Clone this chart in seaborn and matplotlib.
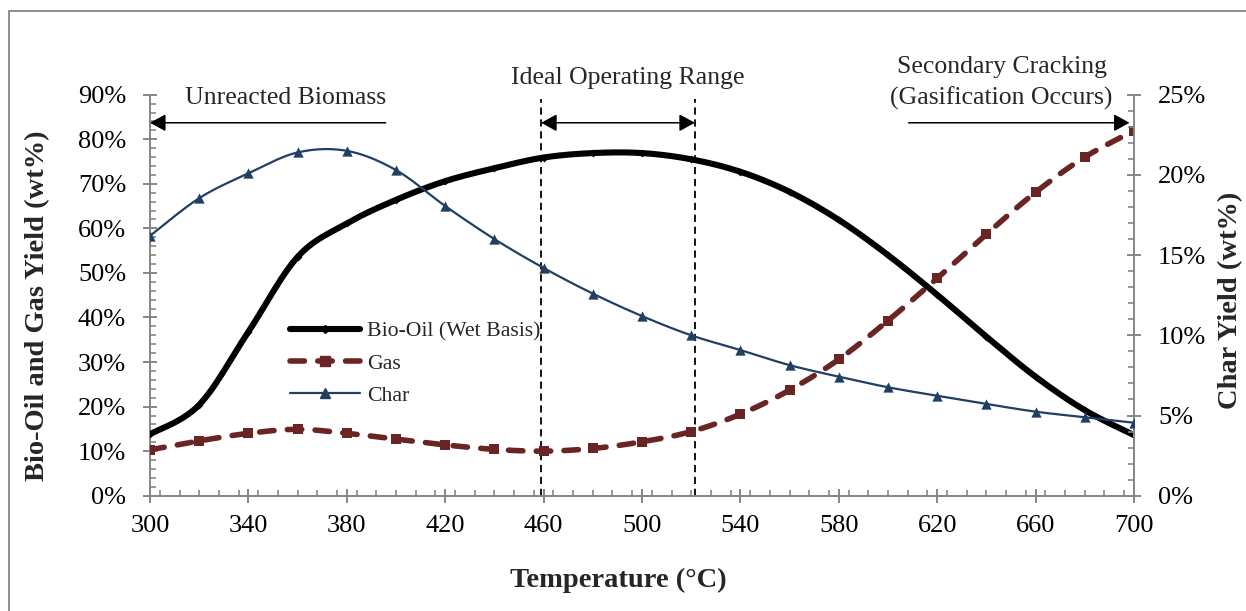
import numpy as np
import pandas as pd
import matplotlib
matplotlib.use("Agg")
import matplotlib.pyplot as plt
import seaborn as sns
from matplotlib.ticker import MultipleLocator, FuncFormatter
from matplotlib.lines import Line2D
from matplotlib.patches import FancyArrowPatch

# ---- data -------------------------------------------------------------
temperature = [300, 320, 340, 360, 380, 400, 420, 440, 460, 480, 500,
               520, 540, 560, 580, 600, 620, 640, 660, 680, 700]
bio_oil = [13.8, 20.4, 36.8, 53.6, 61.1, 66.4, 70.6, 73.5, 75.9, 76.9, 76.9,
           75.5, 72.7, 68.2, 61.9, 54.0, 45.1, 35.7, 26.7, 19.2, 13.6]
gas = [10.3, 12.3, 14.0, 14.9, 14.0, 12.7, 11.4, 10.4, 10.0, 10.6, 12.1,
       14.4, 18.3, 23.7, 30.6, 39.3, 48.8, 58.7, 68.1, 76.0, 81.9]
char = [16.2, 18.55, 20.1, 21.4, 21.5, 20.3, 18.06, 16.0, 14.2, 12.6, 11.2,
        10.0, 9.08, 8.14, 7.42, 6.76, 6.23, 5.72, 5.24, 4.89, 4.55]

series_names = ["Bio-Oil (Wet Basis)", "Gas", "Char"]
x_ticks = list(range(300, 701, 40))

# region boundaries marked on the chart (°C)
ideal_low, ideal_high = 459.0, 521.5

# ---- styling ----------------------------------------------------------
sns.set_style("white")
plt.rcParams["font.family"] = ["Liberation Serif", "DejaVu Serif"]

OIL_C = "#000000"
GAS_C = "#6a2424"
CHAR_C = "#213f63"
AXIS_C = "#868686"

OIL_LW, GAS_LW, CHAR_LW = 4.4, 4.0, 1.6
GAS_DASH = [2.6, 2.4]


def smooth_curve(x, y, steps=24):
    """Cubic Bezier smoothing through every point (spreadsheet-style)."""
    x = np.asarray(x, float)
    y = np.asarray(y, float)
    px = np.concatenate([[x[0]], x, [x[-1]]])
    py = np.concatenate([[y[0]], y, [y[-1]]])
    xs, ys = [], []
    t = np.linspace(0, 1, steps, endpoint=False)
    for i in range(1, len(px) - 2):
        p0 = np.array([px[i], py[i]])
        p3 = np.array([px[i + 1], py[i + 1]])
        c1 = p0 + (np.array([px[i + 1], py[i + 1]]) - np.array([px[i - 1], py[i - 1]])) / 6
        c2 = p3 - (np.array([px[i + 2], py[i + 2]]) - np.array([px[i], py[i]])) / 6
        b = ((1 - t) ** 3)[:, None] * p0 + (3 * (1 - t) ** 2 * t)[:, None] * c1 \
            + (3 * (1 - t) * t ** 2)[:, None] * c2 + (t ** 3)[:, None] * p3
        xs.extend(b[:, 0])
        ys.extend(b[:, 1])
    xs.append(x[-1])
    ys.append(y[-1])
    return np.array(xs), np.array(ys)


fig = plt.figure(figsize=(12.46, 6.11), dpi=100)
ax = fig.add_axes([0.1204, 0.1887, 0.7897, 0.6563])
ax2 = ax.twinx()
ax2.set_position(ax.get_position())

# ---- curves -----------------------------------------------------------
sx, sy = smooth_curve(temperature, gas)
sns.lineplot(x=sx, y=sy, ax=ax, color=GAS_C, lw=GAS_LW, sort=False, estimator=None)
gas_line = ax.lines[-1]
gas_line.set_dashes(GAS_DASH)
gas_line.set_dash_capstyle("round")
sns.scatterplot(x=temperature, y=gas, ax=ax, marker="s", s=52, color=GAS_C,
                edgecolor=GAS_C, linewidth=0, zorder=4)

sx, sy = smooth_curve(temperature, bio_oil)
sns.lineplot(x=sx, y=sy, ax=ax, color=OIL_C, lw=OIL_LW, sort=False, estimator=None)
ax.lines[-1].set_solid_capstyle("butt")
sns.scatterplot(x=temperature, y=bio_oil, ax=ax, marker="D", s=16, color=OIL_C,
                edgecolor=OIL_C, linewidth=0, zorder=4)

sx, sy = smooth_curve(temperature, char)
sns.lineplot(x=sx, y=sy, ax=ax2, color=CHAR_C, lw=CHAR_LW, sort=False, estimator=None)
sns.scatterplot(x=temperature, y=char, ax=ax2, marker="^", s=55, color=CHAR_C,
                edgecolor=CHAR_C, linewidth=0, zorder=4)

# ---- axes -------------------------------------------------------------
ax.set_xlim(300, 700)
ax.set_ylim(0, 90)
ax2.set_ylim(0, 25)
ax.set_xticks(x_ticks)
ax.xaxis.set_minor_locator(MultipleLocator(8))
ax.yaxis.set_major_locator(MultipleLocator(10))
ax.yaxis.set_minor_locator(MultipleLocator(2))
ax2.yaxis.set_major_locator(MultipleLocator(5))
ax2.yaxis.set_minor_locator(MultipleLocator(1))
pct = FuncFormatter(lambda v, p: f"{v:.0f}%")
ax.yaxis.set_major_formatter(pct)
ax2.yaxis.set_major_formatter(pct)

for a in (ax, ax2):
    for s in a.spines.values():
        s.set_visible(False)
    a.grid(False)
    a.set_facecolor("none")
for side in ("left", "bottom"):
    ax.spines[side].set_visible(True)
    ax.spines[side].set_color(AXIS_C)
    ax.spines[side].set_linewidth(1.4)
ax2.spines["right"].set_visible(True)
ax2.spines["right"].set_color(AXIS_C)
ax2.spines["right"].set_linewidth(1.4)

tick_kw = dict(colors=AXIS_C, labelcolor="black", labelsize=19, width=1.4)
ax.tick_params(axis="x", which="major", direction="inout", length=9.5, pad=9,
               bottom=True, top=False, **tick_kw)
ax.tick_params(axis="x", which="minor", direction="in", length=4.5,
               bottom=True, top=False, colors=AXIS_C, width=1.2)
ax.tick_params(axis="y", which="major", direction="inout", length=9.5, pad=12.5,
               left=True, right=False, **tick_kw)
ax.tick_params(axis="y", which="minor", direction="in", length=4.5,
               left=True, right=False, colors=AXIS_C, width=1.2)
ax2.tick_params(axis="y", which="major", direction="inout", length=9.5, pad=12.5,
                right=True, left=False, **tick_kw)
ax2.tick_params(axis="y", which="minor", direction="in", length=4.5,
                right=True, left=False, colors=AXIS_C, width=1.2)
ax2.tick_params(axis="x", which="both", bottom=False, top=False)

ax.set_xlabel("Temperature (°C)", fontsize=20.5, fontweight="bold")
ax.set_ylabel("Bio-Oil and Gas Yield (wt%)", fontsize=20.5, fontweight="bold")
ax2.set_ylabel("Char Yield (wt%)", fontsize=20.5, fontweight="bold")
ax.xaxis.set_label_coords(0.476, -0.18)
ax.yaxis.set_label_coords(-0.1016, 0.474)
ax2.yaxis.set_label_coords(1.0855, 0.486)

# ---- region markers ---------------------------------------------------
for xv in (ideal_low, ideal_high):
    ax.plot([xv, xv], [0, 89.0], color="black", lw=1.3,
            linestyle=(0, (4, 2.6)), zorder=2, clip_on=False)

arrow_y = 83.7


def arrow(x0, x1, style):
    ax.add_patch(FancyArrowPatch((x0, arrow_y), (x1, arrow_y), arrowstyle=style,
                                 mutation_scale=10, color="black", lw=1.1,
                                 shrinkA=0, shrinkB=0, clip_on=False, zorder=6))


arrow(395.8, 300.0, "-|>,head_length=0.95,head_width=0.52")
arrow(ideal_low, ideal_high, "<|-|>,head_length=0.95,head_width=0.52")
arrow(608.4, 698.2, "-|>,head_length=0.95,head_width=0.52")

ax.text(355.3, 87.9, "Unreacted Biomass", ha="center", va="baseline", fontsize=18.5)
ax.text(494.3, 92.4, "Ideal Operating Range", ha="center", va="baseline", fontsize=18.5)
ax.text(646.2, 94.8, "Secondary Cracking", ha="center", va="baseline", fontsize=18.5)
ax.text(646.2, 87.8, "(Gasification Occurs)", ha="center", va="baseline", fontsize=18.5)

# ---- legend -----------------------------------------------------------
handles = [
    Line2D([], [], color=OIL_C, lw=OIL_LW, marker="D", markersize=3.8),
    Line2D([], [], color=GAS_C, lw=GAS_LW, dashes=GAS_DASH, dash_capstyle="round",
           marker="s", markersize=7),
    Line2D([], [], color=CHAR_C, lw=CHAR_LW, marker="^", markersize=7),
]
leg = ax2.legend(handles, series_names, loc="upper left",
                 bbox_to_anchor=(0.1423, 0.435), frameon=False, fontsize=15.7,
                 handlelength=3.2, handletextpad=0.33, labelspacing=0.55,
                 borderpad=0, borderaxespad=0)
leg.set_zorder(10)

# ---- outer frame ------------------------------------------------------
fig.add_artist(Line2D([8.5 / 1246, 1.0], [1 - 11 / 611, 1 - 11 / 611],
                      transform=fig.transFigure, color=AXIS_C, lw=1.3))
fig.add_artist(Line2D([8.5 / 1246, 8.5 / 1246], [0.0, 1 - 11 / 611],
                      transform=fig.transFigure, color=AXIS_C, lw=1.3))

fig.savefig("out.png", dpi=100, facecolor="white")
